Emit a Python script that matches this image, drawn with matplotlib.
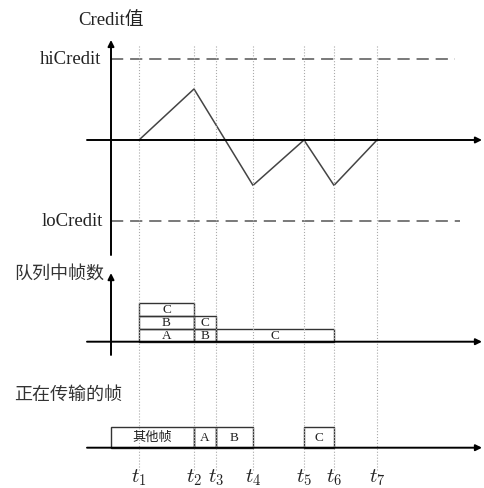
import matplotlib
matplotlib.use('Agg')
import matplotlib.pyplot as plt

plt.rcParams['font.family'] = ['Liberation Serif', 'Noto Sans CJK SC']
plt.rcParams['mathtext.fontset'] = 'cm'

# 时间点 (相对纵轴的位置)
times = [28, 83, 105, 142, 193, 223, 266]
t_labels = ['$t_1$', '$t_2$', '$t_3$', '$t_4$', '$t_5$', '$t_6$', '$t_7$']
t1, t2, t3, t4, t5, t6, t7 = times

# Credit 曲线 (hiCredit = 1, loCredit = -1)
credit_x = [t1, t2, t4, t5, t6, t7]
credit_y = [0, 0.63, -0.56, 0, -0.56, 0]
hi_credit = 1
lo_credit = -1

# 队列中的帧
q_labels = ['A', 'B', 'C', 'B', 'C', 'C']
q_start = [t1, t1, t1, t2, t2, t3]
q_end = [t2, t2, t2, t3, t3, t6]
q_level = [0, 1, 2, 0, 1, 0]

# 正在传输的帧
tx_labels = ['其他帧', 'A', 'B', 'C']
tx_start = [0, t2, t3, t5]
tx_end = [t2, t3, t4, t6]

W, H = 484, 488
fig = plt.figure(figsize=(W / 100, H / 100), dpi=100)


def panel(top, bottom):
    ax = fig.add_axes([0, 1 - bottom / H, 1, (bottom - top) / H])
    ax.set_xlim(-111, 373)
    ax.axis('off')
    ax.patch.set_alpha(0)
    return ax


def arrow(ax, x0, y0, x1, y1):
    ax.annotate('', xy=(x1, y1), xytext=(x0, y0),
                arrowprops=dict(arrowstyle='-|>', color='black', lw=1.4,
                                mutation_scale=9, shrinkA=0, shrinkB=0))


axis_left, axis_right = -24, 371
box_ec = '#333333'
txt_c = '#222222'

# ---- Credit 面板 ----
ax1 = panel(0, 262)
ax1.set_ylim(-122 / 81, 140 / 81)
arrow(ax1, axis_left, 0, axis_right, 0)
arrow(ax1, 0, -1.42, 0, 1.235)
ax1.plot([0, 344], [hi_credit, hi_credit], color='#555555', lw=1.1, dashes=(8, 4.5))
ax1.plot([0, 349], [lo_credit, lo_credit], color='#555555', lw=1.1, dashes=(8, 4.5))
ax1.plot(credit_x, credit_y, color='#444444', lw=1.1)
ax1.text(0, 1.48, 'Credit值', fontsize=13.5, ha='center', va='center', color=txt_c)
ax1.text(-10, hi_credit, 'hiCredit', fontsize=13.5, ha='right', va='center', color=txt_c)
ax1.text(-8, lo_credit, 'loCredit', fontsize=13.5, ha='right', va='center', color=txt_c)
for t in times:
    ax1.axvline(t, ymin=0, ymax=(262 - 45) / 262, color='#aaaaaa', lw=0.8, ls=':')

# ---- 队列面板 ----
ax2 = panel(262, 365)
ax2.set_ylim((341.7 - 365) / 13, (341.7 - 262) / 13)
arrow(ax2, axis_left, 0, axis_right, 0)
arrow(ax2, 0, -1.02, 0, 5.28)
ax2.bar(q_start, 1, width=[e - s for s, e in zip(q_start, q_end)], bottom=q_level,
        align='edge', fill=False, edgecolor=box_ec, lw=1.0)
for lab, s, e, lv in zip(q_labels, q_start, q_end, q_level):
    ax2.text((s + e) / 2, lv + 0.45, lab, fontsize=9.5, ha='center', va='center', color=txt_c)
ax2.text(-97, 5.2, '队列中帧数', fontsize=13, ha='left', va='center',
         fontweight='light', color='#333333')
for t in times:
    ax2.axvline(t, color='#aaaaaa', lw=0.8, ls=':')

# ---- 传输面板 ----
ax3 = panel(365, 488)
ax3.set_ylim((447.7 - 488) / 21, (447.7 - 365) / 21)
arrow(ax3, axis_left, 0, axis_right, 0)
ax3.bar(tx_start, 1, width=[e - s for s, e in zip(tx_start, tx_end)], bottom=0,
        align='edge', fill=False, edgecolor=box_ec, lw=1.0)
for lab, s, e in zip(tx_labels, tx_start, tx_end):
    ax3.text((s + e) / 2, 0.47, lab, fontsize=9.5, ha='center', va='center',
             fontweight='light', color=txt_c)
ax3.text(-97, 2.5, '正在传输的帧', fontsize=13, ha='left', va='center',
         fontweight='light', color='#333333')
for t, lab in zip(times, t_labels):
    ax3.axvline(t, ymin=(488 - 470) / 123, ymax=1, color='#aaaaaa', lw=0.8, ls=':')
    ax3.text(t, -1.44, lab, fontsize=15, ha='center', va='center', color=txt_c)

fig.savefig('out.png', dpi=100)
